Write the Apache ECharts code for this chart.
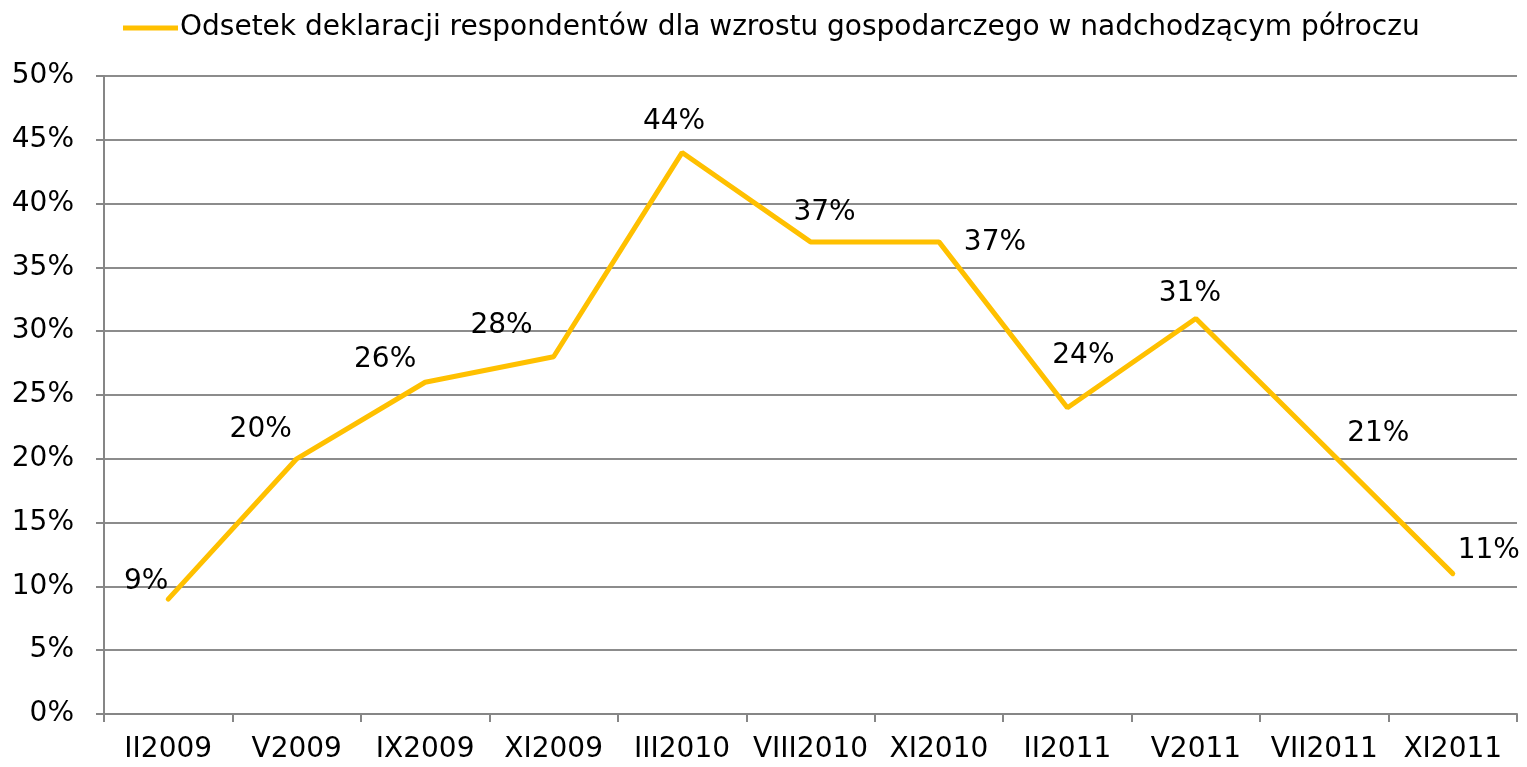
<!DOCTYPE html>
<html>
<head>
<meta charset="utf-8">
<script src="https://cdn.jsdelivr.net/npm/echarts@6/dist/echarts.min.js"></script>
<style>
  html, body { margin: 0; padding: 0; background: #fff; }
  #chart { width: 1527px; height: 767px; }
</style>
</head>
<body>
<div id="chart"></div>
<script>
const categories = ['II2009', 'V2009', 'IX2009', 'XI2009', 'III2010', 'VIII2010', 'XI2010', 'II2011', 'V2011', 'VII2011', 'XI2011'];
const values = [9, 20, 26, 28, 44, 37, 37, 24, 31, 21, 11];
// przesunięcia środków etykiet względem punktów (jak w oryginale)
const labelOffsets = [[-22, -17], [-36, -29], [-40, -23], [-52, -31], [-8, -31], [14, -29], [56, 1], [16, -52], [-6, -25], [54, -12], [36, -23]];
const seriesName = 'Odsetek deklaracji respondentów dla wzrostu gospodarczego w nadchodzącym półroczu';

const font = '"DejaVu Sans", sans-serif';
const chart = echarts.init(document.getElementById('chart'));

chart.setOption({
  animation: false,
  textStyle: { fontFamily: font },
  legend: {
    top: 9,
    left: 118,
    itemWidth: 55,
    itemHeight: 5,
    itemGap: 0,
    icon: 'rect',
    itemStyle: { color: '#FFC000' },
    textStyle: { fontSize: 28, color: '#000', fontFamily: font, padding: [0, 0, 0, -3] },
    data: [seriesName]
  },
  grid: { left: 104, right: 10, top: 76, bottom: 53 },
  xAxis: {
    type: 'category',
    data: categories,
    boundaryGap: true,
    axisLine: { lineStyle: { color: '#868686', width: 2 } },
    axisTick: { show: true, length: 8, lineStyle: { color: '#868686', width: 2 } },
    axisLabel: { fontSize: 28, color: '#000', margin: 22, interval: 0, fontFamily: font }
  },
  yAxis: {
    type: 'value',
    min: 0,
    max: 50,
    interval: 5,
    axisLine: { show: true, lineStyle: { color: '#868686', width: 2 } },
    axisTick: { show: true, length: 8, lineStyle: { color: '#868686', width: 2 } },
    splitLine: { lineStyle: { color: '#8c8c8c', width: 2 } },
    axisLabel: { fontSize: 28, color: '#000', margin: 30, fontFamily: font, formatter: '{value}%' }
  },
  series: [{
    name: seriesName,
    type: 'line',
    data: values,
    symbol: 'circle',
    symbolSize: 2,
    showSymbol: true,
    lineStyle: { color: '#FFC000', width: 5, cap: 'round' },
    itemStyle: { color: '#FFC000' },
    label: { show: false }
  }, {
    // osobna seria tylko z etykietami danych
    name: 'labels',
    type: 'scatter',
    data: values.map((v, i) => ({
      value: [i, v],
      label: { offset: labelOffsets[i] }
    })),
    symbolSize: 1,
    itemStyle: { color: '#ffffff', opacity: 0 },
    silent: true,
    z: 5,
    label: {
      show: true,
      position: 'inside',
      formatter: p => p.value[1] + '%',
      fontSize: 28,
      color: '#000000',
      opacity: 1,
      textBorderWidth: 0,
      fontFamily: font
    }
  }]
});
</script>
</body>
</html>
